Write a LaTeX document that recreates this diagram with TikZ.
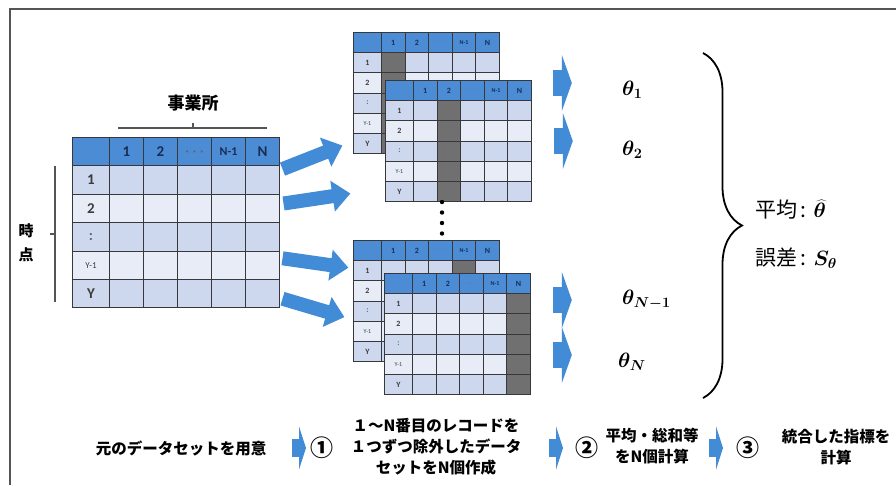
\documentclass[tikz,border=0pt]{standalone}
\usepackage{fontspec}
\setsansfont{Noto Sans CJK JP}
\newfontfamily\tabfont{Carlito}
\usetikzlibrary{matrix,arrows.meta,decorations.pathreplacing}

\definecolor{headblue}{RGB}{75,140,212}
\definecolor{bandA}{RGB}{205,216,238}
\definecolor{bandB}{RGB}{232,236,246}
\definecolor{cutgray}{RGB}{112,112,112}
\definecolor{gridline}{RGB}{55,55,60}
\definecolor{arrblue}{RGB}{66,139,214}
\definecolor{headtext}{RGB}{25,45,85}
\definecolor{rowtext}{RGB}{60,60,60}
\definecolor{dotgray}{RGB}{95,100,120}
\definecolor{framegray}{RGB}{85,85,85}

\tikzset{
  cell/.style={draw=gridline, anchor=center, inner sep=0pt, outer sep=0pt},
  cutcol/.style={
    row 2 column #1/.style={nodes={fill=cutgray}},
    row 3 column #1/.style={nodes={fill=cutgray}},
    row 4 column #1/.style={nodes={fill=cutgray}},
    row 5 column #1/.style={nodes={fill=cutgray}},
    row 6 column #1/.style={nodes={fill=cutgray}}},
  datatab/.style={matrix of nodes, nodes in empty cells, anchor=north west,
    inner sep=0pt, outer sep=0pt,
    row 1/.style={nodes={fill=headblue, text=headtext}},
    row 2/.style={nodes={fill=bandA}},
    row 3/.style={nodes={fill=bandB}},
    row 4/.style={nodes={fill=bandA}},
    row 5/.style={nodes={fill=bandB}},
    row 6/.style={nodes={fill=bandA}}},
  bigtab/.style={datatab, column sep=-1pt, row sep=-1pt,
    nodes={cell, line width=1pt, minimum width=34, minimum height=28.4,
      text=rowtext, font=\tabfont\bfseries\fontsize{15}{15}\selectfont},
    column 1/.style={nodes={minimum width=37}}},
  minitab/.style={datatab, column sep=-0.8pt, row sep=-0.8pt,
    nodes={cell, line width=0.8pt, minimum width=23.6, minimum height=20.2,
      text=rowtext, font=\tabfont\bfseries\fontsize{8}{8}\selectfont},
    column 1/.style={nodes={minimum width=28}}},
  fatarrow/.style={arrblue, line width=14pt, -{Triangle[length=18pt,width=30pt]}},
  stubbig/.style={arrblue, line width=26pt, -{Triangle[length=10pt,width=56pt]}},
  stubsmall/.style={arrblue, line width=18pt, -{Triangle[length=7pt,width=43pt]}},
  guide/.style={framegray, line width=1.5pt},
  steptext/.style={font=\sffamily\bfseries\fontsize{15.5}{21}\selectfont, align=center, inner sep=0pt},
  numtext/.style={font=\sffamily\bfseries\fontsize{23}{23}\selectfont, inner sep=0pt},
  estim/.style={anchor=west, inner sep=0pt, font=\fontsize{20}{24}\selectfont\boldmath}
}

% one of the N reduced data sets
\newcommand{\minitab}[3]{%
  \matrix (#1) at (#2) [minitab, cutcol=#3, ampersand replacement=\&] {
    \& 1 \& 2 \& |[text=dotgray]|$\cdots$ \& |[font=\tabfont\bfseries\fontsize{6}{6}\selectfont]|N-1 \& N \\
    1 \& \& \& \& \& \\
    2 \& \& \& \& \& \\
    |[text=dotgray]|: \& \& \& \& \& \\
    |[font=\tabfont\fontsize{6}{6}\selectfont]|Y-1 \& \& \& \& \& \\
    Y \& \& \& \& \& \\
  };}

\begin{document}
\begin{tikzpicture}[x=1pt,y=-1pt]
  \fill[white] (0,0) rectangle (896,485);
  \useasboundingbox (0,0) rectangle (896,485);
  \draw[guide] (10,485) -- (10,9) -- (896,9);

  % original data set
  \node[font=\sffamily\bfseries\fontsize{17}{17}\selectfont] (office) at (193,103) {事業所};
  \draw[guide] (118,128) -- (267,128) (193,128) -- (193,123);
  \node[font=\sffamily\bfseries\fontsize{15}{24}\selectfont, align=center] (time) at (26,243) {時\\点};
  \draw[guide] (55,166) -- (55,302) (55,234) -- (50,234);

  \matrix (orig) at (72,137) [bigtab] {
    & 1 & 2 & |[text=dotgray]|{\boldmath$\cdots$} & |[font=\tabfont\bfseries\fontsize{12}{12}\selectfont]|N-1 & N \\
    1 & & & & & \\
    2 & & & & & \\
    |[text=dotgray]|: & & & & & \\
    |[font=\tabfont\fontsize{9}{9}\selectfont]|Y-1 & & & & & \\
    Y & & & & & \\
  };

  % leave-one-out data sets
  \minitab{topA}{353,32}{2}
  \minitab{topB}{385,80}{3}
  \minitab{botA}{353,240}{5}
  \minitab{botB}{384,273}{6}
  \foreach \d in {202,212.5,223,233.5}
    \fill (442,\d) circle (2.2);

  \draw[fatarrow] ([shift={(3,-11)}]orig-2-6.east) -- ([shift={(-11,2)}]topA-6-1.west);
  \draw[fatarrow] ([shift={(4,-5)}]orig-3-6.east) -- ([shift={(-35,2)}]topB-6-1.west);
  \draw[fatarrow] ([shift={(3,-7)}]orig-5-6.east) -- ([shift={(-5,-3)}]botA-2-1.west);
  \draw[fatarrow] ([shift={(3,5)}]orig-6-6.east) -- ([shift={(-9,6)}]botA-4-1.west);

  % estimates
  \node[estim] (th1) at (622,90) {$\theta_1$};
  \node[estim] (th2) at (622,150) {$\theta_2$};
  \node[estim] (thm) at (622,300) {$\theta_{N-1}$};
  \node[estim] (thn) at (618,362) {$\theta_N$};
  \draw[stubbig] ([shift={(53,-10)}]topA.east) -- ++(19,0);
  \draw[stubbig] ([shift={(22,0)}]topB.east) -- ++(19,0);
  \draw[stubbig] ([shift={(53,-1)}]botA.east) -- ++(19,0);
  \draw[stubbig] ([shift={(22,21)}]botB.east) -- ++(19,0);

  \draw[line width=1.8pt, decorate, decoration={brace, amplitude=39pt}] (703,53) -- (703,398);
  \node[anchor=west, inner sep=0pt, font=\sffamily\fontsize{21}{24}\selectfont] (mean) at (755,210)
    {平均\,:\,\,{\boldmath$\widehat{\theta}$}};
  \node[anchor=west, inner sep=0pt, font=\sffamily\fontsize{21}{24}\selectfont] (err) at (755,258)
    {誤差\,:\,\,{\boldmath$S_{\theta}$}};

  % procedure
  \node[steptext] (prep) at (181,448) {元のデータセットを用意};
  \node[numtext] (c1) at (322,448) {①};
  \node[steptext] (s1) at (436,447) {１～N番目のレコードを\\１つずつ除外したデータ\\セットをN個作成};
  \node[numtext] (c2) at (587,448) {②};
  \node[steptext] (s2) at (652,446) {平均・総和等\\をN個計算};
  \node[numtext] (c3) at (748,448) {③};
  \node[steptext] (s3) at (836,447) {統合した指標を\\計算};
  \draw[stubsmall] ([shift={(-30,0)}]c1.center) -- ([shift={(-16,0)}]c1.center);
  \draw[stubsmall] ([shift={(-38,0)}]c2.center) -- ([shift={(-24,0)}]c2.center);
  \draw[stubsmall] ([shift={(-39,0)}]c3.center) -- ([shift={(-25,0)}]c3.center);
\end{tikzpicture}
\end{document}
